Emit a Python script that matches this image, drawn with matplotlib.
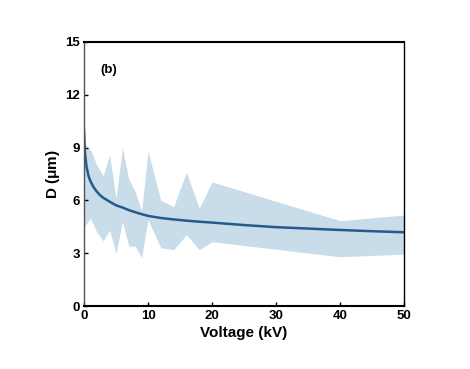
import matplotlib
matplotlib.use("Agg")
import matplotlib.pyplot as plt

# mean curve
x_mean = [0, 0.15, 0.4, 0.7, 1, 1.5, 2, 2.5, 3, 4, 5, 6, 7, 8, 9, 10, 12, 14, 16, 18, 20, 25, 30, 35, 40, 45, 50]
d_mean = [10.0, 8.7, 7.9, 7.4, 7.1, 6.75, 6.5, 6.3, 6.15, 5.93, 5.72, 5.6, 5.45, 5.33, 5.22, 5.12, 5.0, 4.92, 4.85, 4.79, 4.74, 4.6, 4.48, 4.4, 4.32, 4.25, 4.19]

# band
x_band = [0, 1, 2, 3, 4, 5, 6, 7, 8, 9, 10, 12, 14, 16, 18, 20, 40, 50]
d_upper = [9.2, 8.9, 8.0, 7.4, 8.6, 6.1, 9.0, 7.2, 6.5, 5.4, 8.8, 6.0, 5.65, 7.6, 5.55, 7.05, 4.85, 5.17]
d_lower = [4.5, 5.0, 4.2, 3.7, 4.3, 3.0, 4.8, 3.4, 3.4, 2.75, 4.9, 3.3, 3.2, 4.05, 3.2, 3.65, 2.8, 2.95]

xticks = [0, 10, 20, 30, 40, 50]
yticks = [0, 3, 6, 9, 12, 15]

plt.rcParams['font.family'] = ['Liberation Sans', 'DejaVu Sans']
fig = plt.figure(figsize=(4.7, 3.69), dpi=100)
ax = fig.add_axes([0.1787, 0.1707, 0.681, 0.7155])

ax.fill_between(x_band, d_lower, d_upper, color='#c9dcea', linewidth=0)
ax.plot(x_mean, d_mean, color='#245b8c', linewidth=1.8)

ax.set_xlim(0, 50)
ax.set_ylim(0, 15)
ax.set_xticks(xticks)
ax.set_yticks(yticks)
ax.tick_params(direction='in', length=3, width=1, labelsize=9.5, top=False, right=False, pad=3)
for lab in ax.get_xticklabels() + ax.get_yticklabels():
    lab.set_fontweight('bold')

ax.spines['left'].set_linewidth(1.0)
ax.spines['left'].set_color('#555555')
ax.spines['bottom'].set_linewidth(1.5)
ax.spines['top'].set_linewidth(1.5)
ax.spines['right'].set_linewidth(1.0)

ax.set_xlabel('Voltage (kV)', fontsize=11, fontweight='bold', labelpad=3)
ax.set_ylabel(r'D ($\mathregular{\mu}$m)', fontsize=11, fontweight='bold', labelpad=2)
ax.text(2.6, 13.4, '(b)', fontsize=9.5, fontweight='bold', va='center')

fig.savefig('out.png', dpi=100)
